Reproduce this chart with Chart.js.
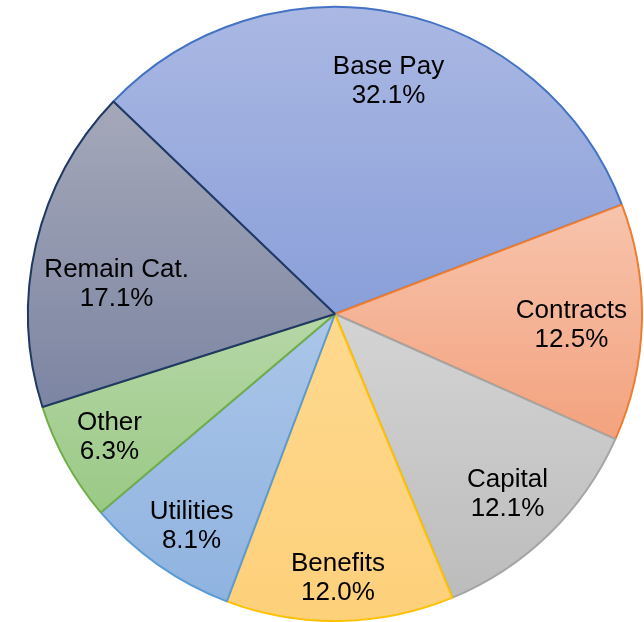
<!DOCTYPE html>
<html>
<head>
<meta charset="utf-8">
<script src="https://cdn.jsdelivr.net/npm/chart.js@4/dist/chart.umd.min.js"></script>
<style>
  body { margin: 0; background: #fff; }
  canvas { display: block; }
</style>
</head>
<body>
<canvas id="budgetPie" width="644" height="622"></canvas>
<script>
// data
const categories = ['Base Pay', 'Contracts', 'Capital', 'Benefits', 'Utilities', 'Other', 'Remain Cat.'];
const shares = [32.1, 12.5, 12.1, 12.0, 8.1, 6.3, 17.1];

// look
const topColors = ['#aab8e3', '#f7c4ad', '#d4d4d4', '#ffd98f', '#abc6e8', '#b6d7a7', '#a4a8b9'];
const bottomColors = ['#8a9fd9', '#f3a27e', '#bcbcbc', '#fdd07a', '#8fb3e0', '#9ac985', '#7c85a2'];
const edgeColors = ['#4472c4', '#ed7d31', '#a5a5a5', '#ffc000', '#5b9bd5', '#70ad47', '#203864'];
const labelRadius = [0.777, 0.771, 0.813, 0.861, 0.834, 0.838, 0.718];
const labelTurn = [1.5, 1.2, 0.5, 0.3, -1.1, 0.2, -5.3];

const sliceGradient = (ctx, arc, i) => {
    const r = arc.outerRadius;
    const s = arc.startAngle, e = arc.endAngle;
    const ys = [arc.y, arc.y + r * Math.sin(s), arc.y + r * Math.sin(e)];
    for (let k = -2; k <= 4; k++) {
        const a = Math.PI / 2 + k * Math.PI;
        if (a > s && a < e) ys.push(arc.y + r * Math.sin(a));
    }
    const g = ctx.createLinearGradient(0, Math.min(...ys), 0, Math.max(...ys));
    g.addColorStop(0, topColors[i]);
    g.addColorStop(1, bottomColors[i]);
    return g;
};

const gradientFill = {
    id: 'gradientFill',
    beforeDatasetsDraw(chart) {
        const meta = chart.getDatasetMeta(0);
        meta.data.forEach((arc, i) => {
            arc.options.backgroundColor = sliceGradient(chart.ctx, arc, i);
        });
    }
};

const sliceLabels = {
    id: 'sliceLabels',
    afterDatasetsDraw(chart) {
        const ctx = chart.ctx;
        const meta = chart.getDatasetMeta(0);
        ctx.save();
        ctx.font = '26px "Liberation Sans", Arial, sans-serif';
        ctx.fillStyle = '#000';
        ctx.textAlign = 'center';
        ctx.textBaseline = 'middle';
        meta.data.forEach((arc, i) => {
            const mid = (arc.startAngle + arc.endAngle) / 2 + labelTurn[i] * Math.PI / 180;
            const rr = arc.outerRadius * labelRadius[i];
            const x = arc.x + rr * Math.cos(mid);
            const y = arc.y + rr * Math.sin(mid);
            ctx.fillText(categories[i], x, y - 14.5);
            ctx.fillText(shares[i].toFixed(1) + '%', x, y + 14.5);
        });
        ctx.restore();
    }
};

new Chart(document.getElementById('budgetPie').getContext('2d'), {
    type: 'pie',
    data: {
        labels: categories,
        datasets: [{
            data: shares,
            backgroundColor: topColors,
            borderColor: edgeColors,
            borderWidth: 2
        }]
    },
    options: {
        responsive: false,
        animation: false,
        rotation: -46.2,
        layout: { padding: { left: 27, right: 1, top: 6, bottom: 0 } },
        events: [],
        plugins: {
            legend: { display: false },
            tooltip: { enabled: false }
        }
    },
    plugins: [gradientFill, sliceLabels]
});
</script>
</body>
</html>
